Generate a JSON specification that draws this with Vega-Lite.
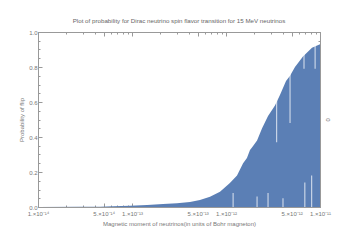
{
  "$schema": "https://vega.github.io/schema/vega-lite/v6.json",
  "width": 282,
  "height": 175,
  "autosize": {"type": "none"},
  "padding": {"left": 38, "top": 32, "right": 31, "bottom": 41},
  "background": "white",
  "title": {"text": "Plot of probability for Dirac neutrino spin flavor transition for 15 MeV neutrinos", "font": "Liberation Sans", "fontSize": 6.2, "fontWeight": "normal", "color": "#666666", "anchor": "middle", "offset": 5},
  "config": {
    "view": {"stroke": "#999999"},
    "axis": {"domainColor": "#999999", "tickColor": "#999999", "labelColor": "#777777", "titleColor": "#777777", "labelFont": "Liberation Sans", "titleFont": "Liberation Sans", "labelFontSize": 6, "titleFontSize": 6, "titleFontWeight": "normal", "grid": false, "labelOverlap": false, "labelFlush": false, "labelBound": false}
  },
  "datasets": {
    "env": [
      {"mu": 1e-14, "p": 0},
      {"mu": 2.8e-14, "p": 0.001},
      {"mu": 4.57e-14, "p": 0.002},
      {"mu": 6.28e-14, "p": 0.004},
      {"mu": 9.53e-14, "p": 0.007},
      {"mu": 1.45e-13, "p": 0.011},
      {"mu": 2.14e-13, "p": 0.017},
      {"mu": 3.01e-13, "p": 0.021},
      {"mu": 4.14e-13, "p": 0.029},
      {"mu": 5.28e-13, "p": 0.04},
      {"mu": 6.76e-13, "p": 0.059},
      {"mu": 8.63e-13, "p": 0.087},
      {"mu": 1.10e-12, "p": 0.137},
      {"mu": 1.31e-12, "p": 0.18},
      {"mu": 1.52e-12, "p": 0.25},
      {"mu": 1.67e-12, "p": 0.28},
      {"mu": 1.80e-12, "p": 0.326},
      {"mu": 1.89e-12, "p": 0.34},
      {"mu": 2.14e-12, "p": 0.38},
      {"mu": 2.42e-12, "p": 0.45},
      {"mu": 2.80e-12, "p": 0.52},
      {"mu": 3.32e-12, "p": 0.58},
      {"mu": 3.75e-12, "p": 0.64},
      {"mu": 4.35e-12, "p": 0.72},
      {"mu": 4.80e-12, "p": 0.75},
      {"mu": 5.42e-12, "p": 0.80},
      {"mu": 6.59e-12, "p": 0.86},
      {"mu": 8.22e-12, "p": 0.91},
      {"mu": 1e-11, "p": 0.93}
    ],
    "gaps": [
      {"mu": 1.19e-12, "lo": 0, "hi": 0.08},
      {"mu": 2.14e-12, "lo": 0, "hi": 0.06},
      {"mu": 2.80e-12, "lo": 0, "hi": 0.08},
      {"mu": 3.46e-12, "lo": 0.37, "hi": 0.62},
      {"mu": 4.04e-12, "lo": 0, "hi": 0.05},
      {"mu": 4.80e-12, "lo": 0.48, "hi": 0.76},
      {"mu": 6.76e-12, "lo": 0.79, "hi": 0.88},
      {"mu": 6.9e-12, "lo": 0, "hi": 0.14},
      {"mu": 8.16e-12, "lo": 0, "hi": 0.18},
      {"mu": 8.87e-12, "lo": 0.79, "hi": 0.93}
    ]
  },
  "layer": [
    {
      "data": {"name": "env"},
      "mark": {"type": "area", "color": "#5b7fb5", "opacity": 1, "interpolate": "linear"},
      "encoding": {
        "x": {"field": "mu", "type": "quantitative", "scale": {"type": "log", "domain": [1e-14, 1e-11]},
          "axis": {"orient": "bottom", "title": "Magnetic moment of neutrinos(in units of Bohr magneton)", "titlePadding": 2,
            "values": [1e-14,2e-14,3e-14,4e-14,5e-14,6e-14,7e-14,8e-14,9e-14,1e-13,2e-13,3e-13,4e-13,5e-13,6e-13,7e-13,8e-13,9e-13,1e-12,2e-12,3e-12,4e-12,5e-12,6e-12,7e-12,8e-12,9e-12,1e-11],
            "labelExpr": "(round(datum.value / pow(10, floor(log(datum.value)/LN10 + 0.000001))) == 1 || round(datum.value / pow(10, floor(log(datum.value)/LN10 + 0.000001))) == 5) ? (round(datum.value / pow(10, floor(log(datum.value)/LN10 + 0.000001))) + '.×10' + (floor(log(datum.value)/LN10 + 0.000001) == -14 ? '⁻¹⁴' : floor(log(datum.value)/LN10 + 0.000001) == -13 ? '⁻¹³' : floor(log(datum.value)/LN10 + 0.000001) == -12 ? '⁻¹²' : '⁻¹¹')) : ''",
            "tickSize": {"condition": {"test": "round(datum.value / pow(10, floor(log(datum.value)/LN10 + 0.000001))) == 1 || round(datum.value / pow(10, floor(log(datum.value)/LN10 + 0.000001))) == 5", "value": -4}, "value": -2},
            "labelPadding": 7}},
        "y": {"field": "p", "type": "quantitative", "scale": {"domain": [0, 1], "nice": false, "zero": true},
          "axis": {"orient": "left", "title": "Probability of flip", "titlePadding": 4,
            "values": [0,0.05,0.1,0.15,0.2,0.25,0.3,0.35,0.4,0.45,0.5,0.55,0.6,0.65,0.7,0.75,0.8,0.85,0.9,0.95,1],
            "labelExpr": "abs(datum.value*5 - round(datum.value*5)) < 0.001 ? format(datum.value,'.1f') : ''",
            "tickSize": {"condition": {"test": "abs(datum.value*5 - round(datum.value*5)) < 0.001", "value": -4}, "value": -2},
            "labelPadding": 5}}
      }
    },
    {
      "data": {"name": "gaps"},
      "mark": {"type": "rule", "color": "white", "strokeWidth": 0.8},
      "encoding": {
        "x": {"field": "mu", "type": "quantitative",
          "axis": {"orient": "top", "title": null, "labels": false,
            "values": [1e-14,2e-14,3e-14,4e-14,5e-14,6e-14,7e-14,8e-14,9e-14,1e-13,2e-13,3e-13,4e-13,5e-13,6e-13,7e-13,8e-13,9e-13,1e-12,2e-12,3e-12,4e-12,5e-12,6e-12,7e-12,8e-12,9e-12,1e-11],
            "tickSize": {"condition": {"test": "round(datum.value / pow(10, floor(log(datum.value)/LN10 + 0.000001))) == 1 || round(datum.value / pow(10, floor(log(datum.value)/LN10 + 0.000001))) == 5", "value": -4}, "value": -2}}},
        "y": {"field": "lo", "type": "quantitative",
          "axis": {"orient": "right", "title": "0", "labels": false, "titlePadding": 4,
            "values": [0,0.05,0.1,0.15,0.2,0.25,0.3,0.35,0.4,0.45,0.5,0.55,0.6,0.65,0.7,0.75,0.8,0.85,0.9,0.95,1],
            "tickSize": {"condition": {"test": "abs(datum.value*5 - round(datum.value*5)) < 0.001", "value": -4}, "value": -2}}},
        "y2": {"field": "hi"}
      }
    }
  ],
  "resolve": {"axis": {"x": "independent", "y": "independent"}}
}
